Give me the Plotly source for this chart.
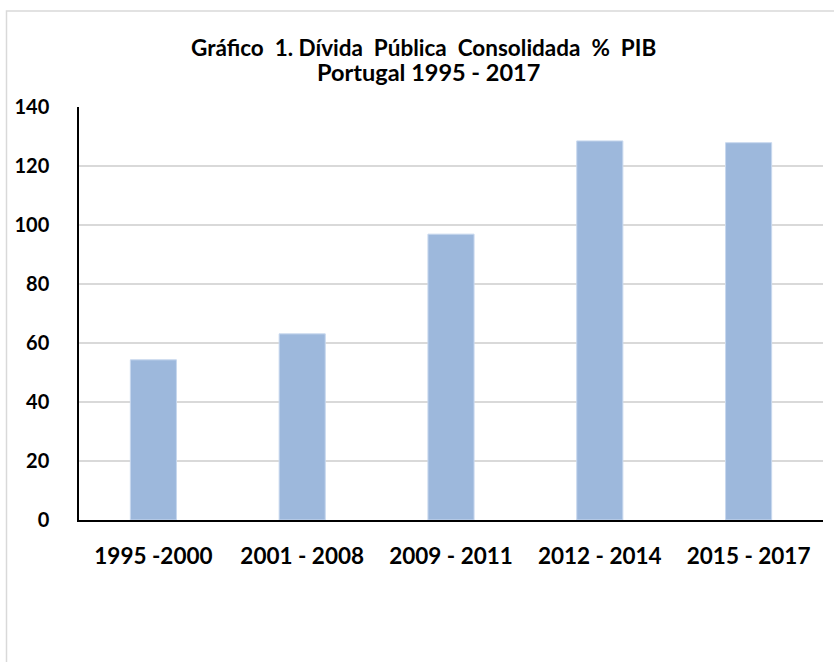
import plotly.graph_objects as go

categories = ["1995 -2000", "2001 - 2008", "2009 - 2011", "2012 - 2014", "2015 - 2017"]
values = [54.3, 63.1, 96.9, 128.5, 127.9]
y_ticks = [0, 20, 40, 60, 80, 100, 120, 140]
title_line1 = "Gráfico  1. Dívida  Pública  Consolidada  %  PIB"
title_line2 = "Portugal 1995 - 2017"

W, H = 834, 662
L, R, T, B = 79, 11, 107, 142
pw, ph = W - L - R, H - T - B

def px_x(px):
    return (px - L) / pw

def px_y(py):
    return (H - B - py) / ph

FONT = "Lato"

fig = go.Figure()
fig.add_trace(go.Bar(
    x=categories, y=values,
    marker=dict(color="#9DB8DC", line=dict(color="#C8D8EE", width=1)),
    hoverinfo="x+y",
))

fig.update_layout(
    width=W, height=H,
    margin=dict(l=L, r=R, t=T, b=B, pad=0, autoexpand=False),
    paper_bgcolor="white", plot_bgcolor="white",
    showlegend=False,
    bargap=0.69,
    font=dict(family=FONT, color="black"),
)
fig.update_yaxes(
    range=[0, 140], tickvals=y_ticks, ticktext=[str(v) for v in y_ticks],
    showgrid=True, gridcolor="#D9D9D9", gridwidth=1.5,
    showline=True, linecolor="black", linewidth=1.5,
    zeroline=False, ticks="", automargin=False,
    tickfont=dict(family=FONT, size=20, color="black", weight="bold"),
    ticklabelstandoff=24,
)
fig.update_xaxes(
    showline=True, linecolor="black", linewidth=1.5,
    showgrid=False, ticks="", automargin=False,
    tickfont=dict(family=FONT, size=22.5, color="black", weight="bold"),
    ticklabelstandoff=15,
)

fig.add_annotation(
    text=title_line1, xref="paper", yref="paper",
    x=px_x(423), y=px_y(47), xanchor="center", yanchor="middle",
    showarrow=False, font=dict(family=FONT, size=22.5, color="black", weight="bold"),
)
fig.add_annotation(
    text=title_line2, xref="paper", yref="paper",
    x=px_x(428), y=px_y(72), xanchor="center", yanchor="middle",
    showarrow=False, font=dict(family=FONT, size=23.5, color="black", weight="bold"),
)

fig.add_shape(
    type="rect", xref="paper", yref="paper",
    x0=px_x(6.5), x1=px_x(845), y0=px_y(700), y1=px_y(11),
    line=dict(color="#D9D9D9", width=1.5), fillcolor="rgba(0,0,0,0)", layer="below",
)

fig.write_html(
    "out.html",
    config={"displayModeBar": False},
    post_script="document.body.style.margin='0';",
)
